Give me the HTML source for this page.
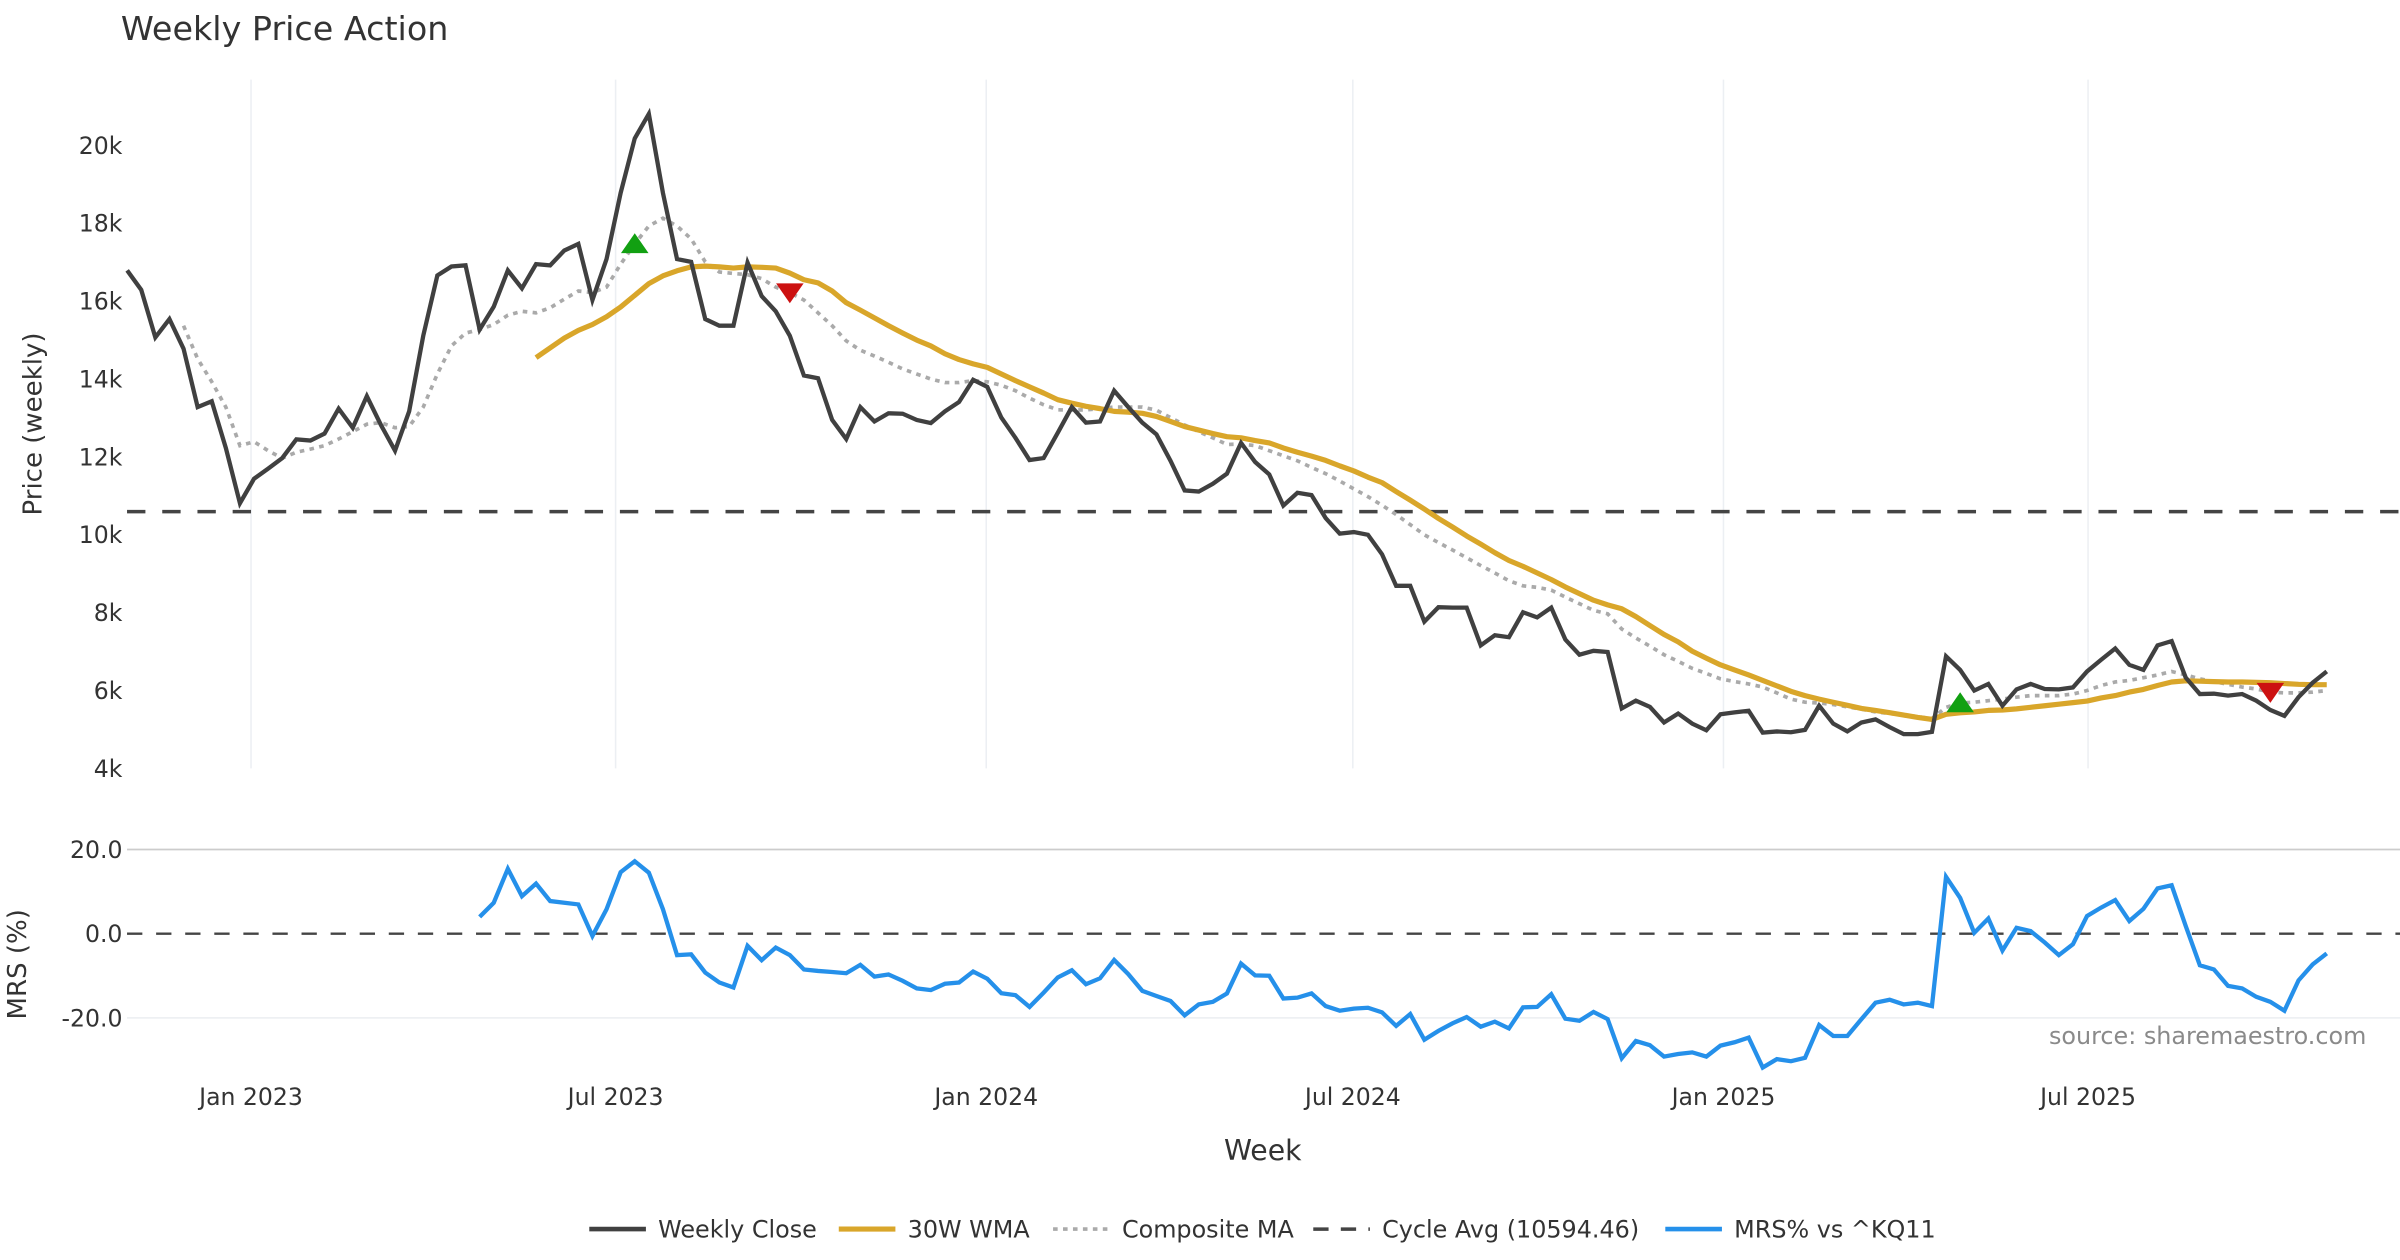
<!DOCTYPE html>
<html><head><meta charset="utf-8"><title>Weekly Price Action</title>
<style>
html,body{margin:0;padding:0;background:#fff;}
svg{display:block;font-family:"DejaVu Sans","Liberation Sans",sans-serif;}
</style></head>
<body>
<svg id="chart" xmlns="http://www.w3.org/2000/svg" width="2400" height="1260" viewBox="0 0 1568 823.2">
<rect x="0" y="0" width="1568" height="823.2" fill="#fff"/>
<text x="79" y="26" font-size="21.8" fill="#333">Weekly Price Action</text>
<g id="grid"></g>
<g id="axes"></g>
<g id="series"></g>
<g id="markers"></g>
<text transform="translate(27,277) rotate(-90)" text-anchor="middle" font-size="17" fill="#333">Price (weekly)</text>
<text transform="translate(17,630) rotate(-90)" text-anchor="middle" font-size="17" fill="#333">MRS (%)</text>
<text x="825" y="758" text-anchor="middle" font-size="18.5" fill="#333">Week</text>
<text x="1546" y="682" text-anchor="end" font-size="15.6" fill="#8a8a8a">source: sharemaestro.com</text>
<g id="legend"></g>
</svg>
<script>
const closeVals = [16.79,16.29,15.07,15.54,14.78,13.28,13.43,12.23,10.81,11.44,11.70,11.97,12.45,12.42,12.60,13.24,12.75,13.56,12.82,12.16,13.17,15.11,16.66,16.89,16.92,15.27,15.86,16.79,16.33,16.95,16.92,17.30,17.47,16.03,17.08,18.78,20.18,20.81,18.78,17.08,17.01,15.54,15.37,15.37,16.99,16.13,15.74,15.11,
14.09,14.02,12.95,12.46,13.28,12.91,13.12,13.11,12.95,12.87,13.17,13.41,13.98,13.80,13.01,12.49,11.92,11.97,12.62,13.28,12.88,12.91,13.70,13.28,12.88,12.58,11.90,11.14,11.11,11.31,11.57,12.36,11.87,11.55,10.75,11.08,11.02,10.43,10.03,10.07,10.00,9.50,8.69,8.69,7.77,8.14,8.13,8.13,7.16,7.42,7.37,8.01,7.88,8.13,7.31,6.92,7.02,
6.99,5.54,5.74,5.58,5.18,5.41,5.15,4.98,5.39,5.44,5.48,4.92,4.95,4.93,4.99,5.61,5.15,4.95,5.18,5.26,5.06,4.88,4.88,4.94,6.88,6.53,6.00,6.17,5.61,6.03,6.17,6.04,6.03,6.08,6.49,6.79,7.08,6.66,6.53,7.16,7.27,6.33,5.91,5.92,5.87,5.91,5.74,5.50,5.35,5.83,6.20,6.49];
const wmaStart = 29;
const wmaVals = [14.55,14.8,15.05,15.25,15.4,15.6,15.85,16.15,16.45,16.65,16.78,16.88,16.9,16.88,16.85,16.88,16.87,16.85,16.72,16.55,16.47,16.26,15.96,15.77,15.57,15.37,15.18,15.0,14.85,14.65,14.5,14.39,14.3,14.13,13.96,13.8,13.64,13.47,13.38,13.3,13.24,13.17,13.15,13.12,13.04,12.91,12.78,12.69,12.6,12.52,12.49,12.42,12.36,12.23,12.12,12.02,11.91,11.77,11.64,11.48,11.34,11.11,10.89,10.66,10.42,10.2,9.97,9.76,9.54,9.34,9.19,9.02,8.85,8.66,8.49,8.32,8.2,8.1,7.9,7.67,7.44,7.25,7.01,6.83,6.66,6.53,6.4,6.26,6.12,5.98,5.87,5.78,5.7,5.62,5.54,5.49,5.43,5.37,5.31,5.26,5.39,5.43,5.45,5.49,5.5,5.53,5.57,5.61,5.65,5.69,5.73,5.81,5.87,5.96,6.03,6.13,6.22,6.25,6.24,6.23,6.22,6.22,6.21,6.2,6.18,6.16,6.15,6.15];
const compStart = 4;
const compVals = [15.37,14.52,13.93,13.28,12.29,12.39,12.16,11.97,12.12,12.2,12.29,12.46,12.65,12.84,12.88,12.75,12.78,13.28,14.13,14.85,15.18,15.27,15.4,15.64,15.74,15.7,15.83,16.05,16.26,16.22,16.36,16.95,17.47,17.93,18.13,17.93,17.6,17.01,16.75,16.71,16.68,16.58,16.36,16.22,
16.03,15.7,15.37,14.98,14.74,14.59,14.43,14.26,14.13,14.0,13.91,13.91,13.96,13.93,13.84,13.7,13.51,13.34,13.21,13.2,13.21,13.24,13.28,13.28,13.28,13.2,13.01,12.82,12.65,12.49,12.32,12.33,12.29,12.16,12.03,11.9,11.73,11.57,11.38,11.18,10.98,10.76,10.52,10.26,10.0,9.8,9.61,9.41,9.21,9.02,8.82,8.69,8.65,8.58,8.4,8.23,8.06,
7.97,7.58,7.35,7.14,6.92,6.75,6.57,6.44,6.3,6.23,6.17,6.09,5.94,5.78,5.7,5.68,5.64,5.58,5.52,5.45,5.41,5.37,5.33,5.28,5.57,5.68,5.7,5.74,5.78,5.83,5.87,5.87,5.87,5.91,6.0,6.13,6.22,6.26,6.33,6.4,6.49,6.4,6.3,6.23,6.16,6.09,6.04,5.96,5.94,5.94,5.96,6.0];
const mrsStart = 25;
const mrsVals = [4.0,7.35,15.4,8.9,11.9,7.75,7.35,6.95,-0.55,5.8,14.6,17.2,14.5,5.8,-5.1,-4.9,-9.25,-11.6,-12.8,-2.9,-6.3,-3.3,-5.1,-8.5,-8.85,-9.1,-9.4,-7.4,-10.2,-9.7,-11.2,-13.0,-13.4,-11.9,-11.6,-9.0,-10.7,-14.15,-14.6,-17.4,-14.0,-10.4,-8.7,-12.0,-10.6,-6.25,-9.6,-13.6,-14.8,-16.0,-19.4,-16.8,
-16.2,-14.2,-7.1,-9.9,-10.0,-15.4,-15.2,-14.2,-17.2,-18.3,-17.8,-17.6,-18.7,-21.9,-19.1,-25.2,-23.1,-21.3,-19.8,-22.1,-20.9,-22.5,-17.5,-17.4,-14.4,-20.2,-20.7,-18.6,-20.3,-29.6,-25.5,-26.5,-29.2,-28.6,-28.2,-29.2,-26.6,-25.8,-24.7,-31.8,-29.8,-30.3,-29.5,-21.7,-24.3,-24.3,-20.3,-16.4,-15.7,-16.8,-16.4,-17.2,13.5,8.5,0.2,3.6,-4.0,1.4,0.6,-2.1,-5.1,-2.5,4.2,6.2,8.0,3.0,5.9,10.75,11.5,1.8,-7.5,-8.5,-12.4,-13.0,-15.0,-16.2,-18.3,-11.1,-7.3,-4.7];
const cycleAvg = 10.59446;
const buyIdx = [36,130];
const sellIdx = [47,152];
const priceTicks = [4,6,8,10,12,14,16,18,20];
const priceTickLabels = ["4k","6k","8k","10k","12k","14k","16k","18k","20k"];
const mrsTicks = [20,0,-20];
const mrsTickLabels = ["20.0","0.0","-20.0"];
const dateTickDays = [0,181,365,547,731,912];
const dateTickLabels = ["Jan 2023","Jul 2023","Jan 2024","Jul 2024","Jan 2025","Jul 2025"];
const firstWeekDay = -61.5;

const NS = "http://www.w3.org/2000/svg";
const PLOT_L = 83, PLOT_R = 1540;
const xDay = d => 164 + d * 1.316;
const xWeek = i => xDay(firstWeekDay + 7 * i);
const yPrice = v => 95 + (20 - v) * 25.44;
const yMrs = v => 610 - v * 2.75;

function mk(tag, attrs, parent) {
  const e = document.createElementNS(NS, tag);
  for (const k in attrs) e.setAttribute(k, attrs[k]);
  parent.appendChild(e);
  return e;
}
const grid = document.getElementById('grid');
const axes = document.getElementById('axes');
const series = document.getElementById('series');
const markers = document.getElementById('markers');
const legend = document.getElementById('legend');

dateTickDays.forEach((d, k) => {
  const gl = mk('line', {x1: xDay(d), x2: xDay(d), y1: 52, y2: 502, stroke: '#eceff3', 'stroke-width': 1}, grid);
  
  
  const t = mk('text', {x: xDay(d), y: 722, 'text-anchor': 'middle', 'font-size': 15.4, fill: '#333'}, axes);
  t.textContent = dateTickLabels[k];
  
  
});
priceTicks.forEach((v, k) => {
  const t = mk('text', {x: 80, y: yPrice(v) + 5.5, 'text-anchor': 'end', 'font-size': 15.4, fill: '#333'}, axes);
  t.textContent = priceTickLabels[k];
  
  
});
mrsTicks.forEach((v, k) => {
  if (v !== 0) {
    const gl = mk('line', {x1: PLOT_L, x2: 1568, y1: yMrs(v), y2: yMrs(v), stroke: v > 0 ? '#cccccc' : '#eef0f3', 'stroke-width': 1.2}, grid);
    
    
  }
  const t = mk('text', {x: 80, y: yMrs(v) + 5.5, 'text-anchor': 'end', 'font-size': 15.4, fill: '#333'}, axes);
  t.textContent = mrsTickLabels[k];
  
  
});

const cyc = mk('line', {x1: PLOT_L, x2: 1568, y1: yPrice(cycleAvg), y2: yPrice(cycleAvg), stroke: '#444', 'stroke-width': 2.3, 'stroke-dasharray': '12,11'}, series);


const zl = mk('line', {x1: PLOT_L, x2: 1568, y1: yMrs(0), y2: yMrs(0), stroke: '#444', 'stroke-width': 1.6, 'stroke-dasharray': '10,9'}, series);



function pts(vals, start, yf) {
  return vals.map((v, j) => xWeek(start + j).toFixed(2) + ',' + yf(v).toFixed(2)).join(' ');
}
const compLine = mk('polyline', {points: pts(compVals, compStart, yPrice), fill: 'none', stroke: '#aaaaaa', 'stroke-width': 2.4, 'stroke-dasharray': '3,3.5'}, series);


const wmaLine = mk('polyline', {points: pts(wmaVals, wmaStart, yPrice), fill: 'none', stroke: '#d9a62a', 'stroke-width': 3.4, 'stroke-linejoin': 'round'}, series);


const closeLine = mk('polyline', {points: pts(closeVals, 0, yPrice), fill: 'none', stroke: '#404040', 'stroke-width': 2.8, 'stroke-linejoin': 'miter'}, series);


const mrsLine = mk('polyline', {points: pts(mrsVals, mrsStart, yMrs), fill: 'none', stroke: '#2590ea', 'stroke-width': 2.8}, series);



buyIdx.forEach(i => {
  const x = xWeek(i), y = yPrice(compVals[i - compStart]);
  const p = mk('polygon', {points: `${x-9},${y+6} ${x+9},${y+6} ${x},${y-7}`, fill: '#12a012'}, markers);
  
  
});
sellIdx.forEach(i => {
  const x = xWeek(i), y = yPrice(compVals[i - compStart]);
  const p = mk('polygon', {points: `${x-9},${y-6} ${x+9},${y-6} ${x},${y+7}`, fill: '#cc1111'}, markers);
  
  
});

const legItems = [
  {x: 385, label: 'Weekly Close', stroke: '#404040', w: 3, dash: null, name: 'legend-weekly-close'},
  {x: 548, label: '30W WMA', stroke: '#d9a62a', w: 3.4, dash: null, name: 'legend-30w-wma'},
  {x: 688, label: 'Composite MA', stroke: '#aaaaaa', w: 2.4, dash: '3,3.5', name: 'legend-composite-ma'},
  {x: 858, label: 'Cycle Avg (10594.46)', stroke: '#444', w: 2.3, dash: '10,8', name: 'legend-cycle-avg'},
  {x: 1088, label: 'MRS% vs ^KQ11', stroke: '#2590ea', w: 3, dash: null, name: 'legend-mrs'}
];
legItems.forEach(it => {
  const g = mk('g', {}, legend);
  
  
  const a = {x1: it.x, x2: it.x + 37, y1: 803, y2: 803, stroke: it.stroke, 'stroke-width': it.w};
  if (it.dash) a['stroke-dasharray'] = it.dash;
  const l = mk('line', a, g);
  
  
  const t = mk('text', {x: it.x + 45, y: 808.5, 'font-size': 15.6, fill: '#333'}, g);
  t.textContent = it.label;
  
  
});
</script>
</body></html>
